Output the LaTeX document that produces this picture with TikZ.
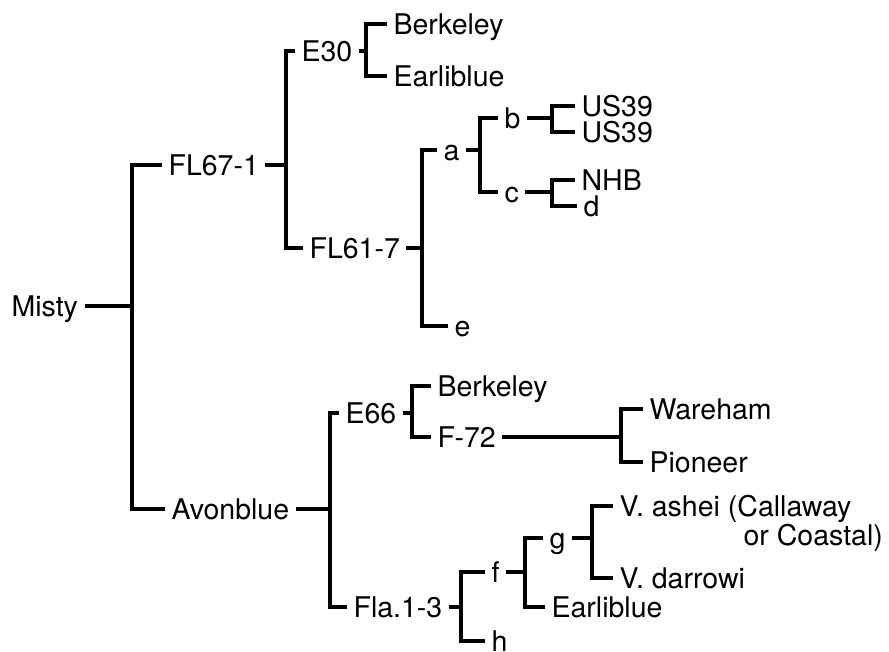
\documentclass[tikz,border=0pt]{standalone}
\usepackage{fontspec}
\setmainfont{TeX Gyre Heros}
\usetikzlibrary{calc}

\begin{document}
\begin{tikzpicture}[x=1pt, y=-1pt, line width=3.2pt,
  lbl/.style={anchor=west, inner xsep=5pt, inner ysep=0pt,
    font=\fontsize{28.5}{32}\selectfont, text height=20.5pt, text depth=0pt}]
\useasboundingbox (0,0) rectangle (889,651);
% Misty side
\node[lbl] (misty) at (5,306) {Misty};
\node[lbl] (fl671) at (162,165) {FL67-1};
\node[lbl] (avon) at (165,509) {Avonblue};
% FL67-1 side
\node[lbl] (e30) at (295,51) {E30};
\node[lbl] (fl617) at (303,248) {FL61-7};
\node[lbl] (berk1) at (387,24) {Berkeley};
\node[lbl] (early1) at (387,76) {Earliblue};
\node[lbl] (a) at (437,150) {a};
\node[lbl] (e) at (448,326) {e};
\node[lbl] (b) at (498,118) {b};
\node[lbl] (c) at (498,192) {c};
\node[lbl] (us1) at (575,106) {US39};
\node[lbl] (us2) at (575,132) {US39};
\node[lbl] (nhb) at (575,180) {NHB};
\node[lbl] (d) at (577,206) {d};
% Avonblue side
\node[lbl] (e66) at (339,413) {E66};
\node[lbl] (fla) at (347,607) {Fla.1-3};
\node[lbl] (berk2) at (431,386) {Berkeley};
\node[lbl] (f72) at (431,437) {F-72};
\node[lbl] (war) at (643,409) {Wareham};
\node[lbl] (pio) at (643,462) {Pioneer};
\node[lbl] (f) at (485,572) {f};
\node[lbl] (h) at (485,641) {h};
\node[lbl] (g) at (543,538) {g};
\node[lbl] (early2) at (545,607) {Earliblue};
\node[lbl] (ashei) at (613,506) {V. ashei (Callaway};
\node[lbl] (ashei2) at (737,535) {or Coastal)};
\node[lbl] (darrowi) at (613,578) {V. darrowi};
% x of each bracket
\coordinate (jmisty) at (132,0);
\coordinate (jfl671) at (286,0);
\coordinate (je30) at (366,0);
\coordinate (jfl617) at (422,0);
\coordinate (ja) at (480,0);
\coordinate (jb) at (552,0);
\coordinate (jc) at (552,0);
\coordinate (javon) at (330,0);
\coordinate (je66) at (412,0);
\coordinate (jf72) at (621,0);
\coordinate (jfla) at (461,0);
\coordinate (jf) at (525,0);
\coordinate (jg) at (592,0);
\foreach \p/\t/\b in {misty/fl671/avon, fl671/e30/fl617, e30/berk1/early1,
    fl617/a/e, a/b/c, b/us1/us2, c/nhb/d, avon/e66/fla, e66/berk2/f72,
    f72/war/pio, fla/f/h, f/g/early2, g/ashei/darrowi}
{
  \draw (\t.west) -- (\t.west -| j\p) |- (\b.west); % bracket
  \draw (\p.east) -- (\p.east -| j\p); % stem
}
\end{tikzpicture}
\end{document}
